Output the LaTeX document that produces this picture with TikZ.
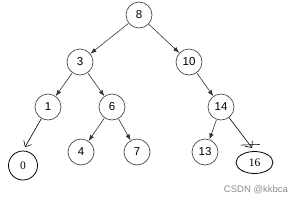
\documentclass[tikz,border=0pt]{standalone}
\usepackage{fontspec}
\setmainfont{Liberation Sans}
\newfontfamily\handfont{Liberation Serif}
\usetikzlibrary{arrows.meta,shapes.geometric}
\newcommand{\fleche}[2]{\draw[tree] (#1) -- (#2)}
\newcommand{\trait}[2]{\draw[handline] (#1) -- (#2)}
\tikzset{
	key/.style={circle, draw=black!70, line width=0.7pt, minimum size=26pt, inner sep=0pt,
		font=\fontsize{11.5}{12}\selectfont},
	tree/.style={draw=black!80, line width=0.6pt, -{Latex[length=6pt,width=4.5pt]}, shorten <=0.5pt},
	handkey/.style={draw=black, line width=0.8pt, inner sep=0pt, font=\handfont\fontsize{11.5}{12}\selectfont},
	handline/.style={draw=black, line width=0.6pt, -{Straight Barb[length=5pt,width=9pt]}, shorten >=4pt},
	wm/.style={text=black!45, font=\fontsize{9.5}{10}\selectfont}
}
\begin{document}
\begin{tikzpicture}[x=1pt, y=-1pt]
	\useasboundingbox (0,0) rectangle (305,202);
%The keys
	\node[key] (k8) at (139,15) {8};
	\node[key] (k3) at (80,62) {3};
	\node[key] (k10) at (189,62) {10};
	\node[key] (k1) at (48,107) {1};
	\node[key] (k6) at (112,107) {6};
	\node[key] (k14) at (221,107) {14};
	\node[key] (k4) at (81,152) {4};
	\node[key] (k7) at (137,152) {7};
	\node[key] (k13) at (205,152) {13};
%The links
	\fleche{k8}{k3};
	\fleche{k8}{k10};
	\fleche{k3}{k1};
	\fleche{k3}{k6};
	\fleche{k10}{k14};
	\fleche{k6}{k4};
	\fleche{k6}{k7};
	\fleche{k14}{k13};
%Hand-drawn leaves
	\node[handkey, circle, minimum size=29pt] (k0) at (23,165.5) {0};
	\node[handkey, ellipse, minimum width=37pt, minimum height=22pt] (k16) at (254.5,162.5) {16};
	\trait{k1}{k0.north};
	\trait{k14}{k16.north};
	\draw[draw=black, line width=0.6pt] (k16.north) ++(-14,-6) -- ++(19,-0.6);
%Watermark
	\node[wm] (csdn) at (256,190) {CSDN @kkbca};
\end{tikzpicture}
\end{document}
